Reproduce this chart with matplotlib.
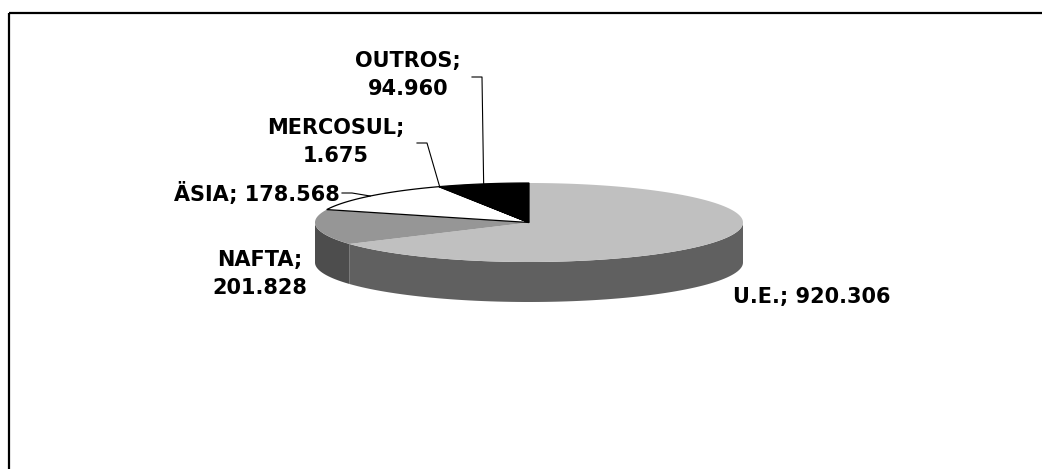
import numpy as np
import matplotlib.pyplot as plt
from matplotlib.patches import Polygon, Rectangle

# exportações por bloco econômico
blocos = ['U.E.', 'NAFTA', 'ÄSIA', 'MERCOSUL', 'OUTROS']
valores = [920306, 201828, 178568, 1675, 94960]

cor_topo = ['#c0c0c0', '#969696', '#ffffff', '#ffffff', '#000000']
cor_lado = ['#606060', '#4d4d4d', '#bfbfbf', '#bfbfbf', '#000000']
borda = ['none', 'none', 'black', 'black', 'black']

# geometria da pizza em pixels
cx, cy = 529, 222.5
rx, ry = 214, 39.5
prof = 40


def ponto(t, dy=0.0):
    t = np.radians(t)
    return cx + rx * np.cos(t), cy - ry * np.sin(t) + dy


def fmt(v):
    return f'{v:,}'.replace(',', '.')


fig = plt.figure(figsize=(10.42, 4.69), dpi=100)
ax = fig.add_axes([0, 0, 1, 1])
ax.set_xlim(0, 1042)
ax.set_ylim(469, 0)
ax.axis('off')

total = sum(valores)
angulos = [90]
for v in valores:
    angulos.append(angulos[-1] - 360 * v / total)

# paredes laterais (só a metade da frente aparece)
for i in range(len(valores)):
    a0, a1 = angulos[i], angulos[i + 1]
    hi, lo = min(a0, 0), max(a1, -180)
    if hi <= lo:
        continue
    t = np.linspace(hi, lo, 80)
    xs, ys = ponto(t)
    xb, yb = ponto(t[::-1], prof)
    pts = np.column_stack([np.r_[xs, xb], np.r_[ys, yb]])
    ax.add_patch(Polygon(pts, closed=True, facecolor=cor_lado[i], edgecolor='none'))

# tampo
for i in range(len(valores)):
    t = np.linspace(angulos[i], angulos[i + 1], 120)
    xs, ys = ponto(t)
    pts = np.column_stack([np.r_[cx, xs], np.r_[cy, ys]])
    ax.add_patch(Polygon(pts, closed=True, facecolor=cor_topo[i],
                         edgecolor=borda[i], linewidth=0.9))

fonte = dict(family='DejaVu Sans', fontweight='bold', fontsize=15, color='black')

# rótulos com linhas de chamada
pos = {
    'U.E.': (733, 297, 'left', None),
    'NAFTA': (260, 274, 'center', None),
    'ÄSIA': (340, 193, 'right', (342, 193)),
    'MERCOSUL': (336, 142, 'center', (417, 143)),
    'OUTROS': (408, 75, 'center', (472, 77)),
}
for i, nome in enumerate(blocos):
    x, y, ha, linha = pos[nome]
    if nome in ('U.E.', 'ÄSIA'):
        txt = f'{nome}; {fmt(valores[i])}'
    else:
        txt = f'{nome};\n{fmt(valores[i])}'
    ax.text(x, y, txt, ha=ha, va='center', linespacing=1.5, **fonte)
    if linha is not None:
        meio = (angulos[i] + angulos[i + 1]) / 2
        px, py = ponto(meio)
        lx, ly = linha
        ax.plot([lx, lx + 10, px], [ly, ly, py], color='black', linewidth=0.8)

ax.add_patch(Rectangle((8.5, 13), 1100, 500, fill=False, edgecolor='black',
                       linewidth=1.6, clip_on=True))

fig.savefig('out.png', dpi=100)
